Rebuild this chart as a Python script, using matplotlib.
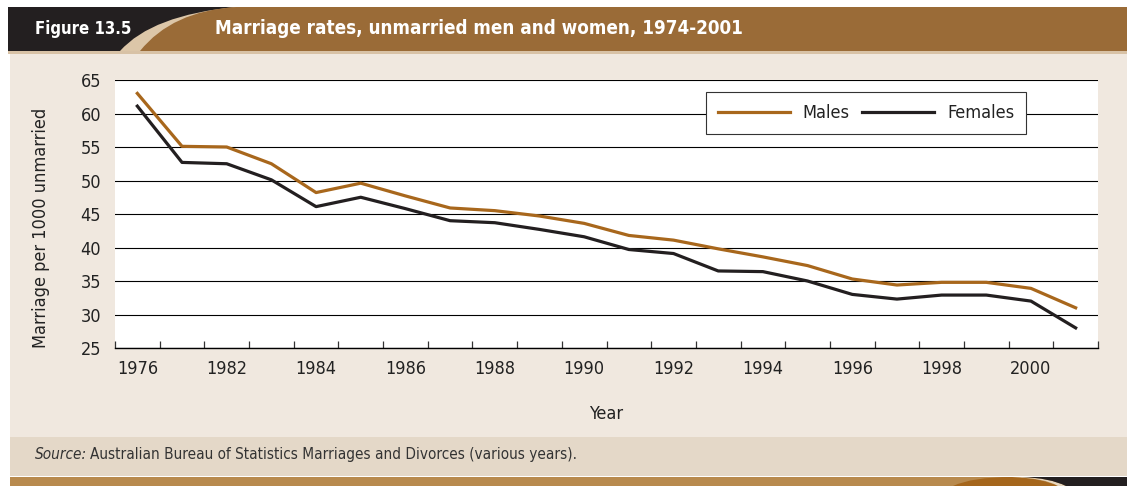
import matplotlib
matplotlib.use("Agg")
import matplotlib.pyplot as plt
from matplotlib.patches import Rectangle, PathPatch
from matplotlib.path import Path
from matplotlib.ticker import FixedLocator, NullFormatter

# data
year_labels = ["1976", "", "1982", "", "1984", "", "1986", "", "1988", "", "1990", "",
               "1992", "", "1994", "", "1996", "", "1998", "", "2000", ""]
males = [63.0, 55.1, 55.0, 52.5, 48.2, 49.6, 47.7, 45.9, 45.5, 44.7, 43.6, 41.8,
         41.1, 39.8, 38.6, 37.3, 35.3, 34.4, 34.8, 34.8, 33.9, 31.0]
females = [61.1, 52.7, 52.5, 50.1, 46.1, 47.5, 45.8, 44.0, 43.7, 42.7, 41.6, 39.7,
           39.1, 36.5, 36.4, 35.0, 33.0, 32.3, 32.9, 32.9, 32.0, 28.0]

W, H = 1127, 486
BEIGE = "#f0e8df"
BROWN = "#9a6b37"
DARK = "#231f20"
MALE_C = "#a8671c"
STRIPE = "#dcc6a8"

plt.rcParams['font.family'] = ['DejaVu Sans']
plt.rcParams['font.stretch'] = 'condensed'

fig = plt.figure(figsize=(W / 100, H / 100), dpi=100)
fig.patch.set_facecolor("white")


def fx(px):
    return px / W


def fy(py):
    return 1 - py / H


def frect(x0, y0, x1, y1, color, z=-10):
    r = Rectangle((fx(x0), fy(y1)), fx(x1) - fx(x0), fy(y0) - fy(y1),
                  transform=fig.transFigure, facecolor=color, edgecolor="none", zorder=z)
    fig.patches.append(r)


def fshape(pts, codes, color, z):
    p = Path([(fx(a), fy(b)) for a, b in pts], codes)
    fig.patches.append(PathPatch(p, transform=fig.transFigure, facecolor=color,
                                 edgecolor="none", zorder=z))


M, C, L, X = Path.MOVETO, Path.CURVE3, Path.LINETO, Path.CLOSEPOLY

# background panels
frect(10, 53, W, 437, BEIGE)
frect(10, 437, W, 476, "#e4d8c8")
frect(10, 477, W, H, "#b88a4e")
frect(8, 7, W, 51, DARK)
frect(8, 51, W, 54, "#d8c2a6")

# header: beige swoosh, brown to the right of it
fshape([(120, 51), (152, 15), (236, 7), (W, 7), (W, 51), (120, 51)],
       [M, C, C, L, L, X], STRIPE, -9)
fshape([(140, 51), (172, 11), (236, 7), (W, 7), (W, 51), (140, 51)],
       [M, C, C, L, L, X], BROWN, -8)

# bottom-right corner swoosh
fshape([(953, H), (972, 477), (1012, 477), (1040, 478), (1058, H), (953, H)],
       [M, C, C, C, C, X], "#a5661c", -9)
fshape([(1012, 477), (1045, 478), (1058, H), (1066, H), (1050, 478), (1022, 477), (1012, 477)],
       [M, C, C, L, C, C, X], "#e8d8c0", -8)
fshape([(1022, 477), (1050, 478), (1066, H), (W, H), (W, 477), (1022, 477)],
       [M, C, C, L, L, X], DARK, -8)

fig.text(fx(35), fy(29), "Figure 13.5", color="white", fontsize=12, fontweight="bold",
         va="center", ha="left", zorder=5)
fig.text(fx(215), fy(29), "Marriage rates, unmarried men and women, 1974-2001", color="white",
         fontsize=13.5, fontweight="bold", va="center", ha="left", zorder=5)

src = fig.text(fx(35), fy(454), "Source:", fontsize=11, style="italic", color="#333333",
               va="center", ha="left")
renderer = fig.canvas.get_renderer()
src_end = src.get_window_extent(renderer).x1
fig.text((src_end + 3) / W, fy(454),
         "Australian Bureau of Statistics Marriages and Divorces (various years).",
         fontsize=11, color="#333333", va="center", ha="left")

# chart
ax = fig.add_axes([fx(115), fy(348), fx(1098) - fx(115), fy(80) - fy(348)])
ax.set_zorder(5)
ax.set_facecolor("white")
x = list(range(len(year_labels)))
ax.plot(x, males, color=MALE_C, lw=2.3, label="Males", zorder=3)
ax.plot(x, females, color=DARK, lw=2.3, label="Females", zorder=3)

ax.set_xlim(-0.5, len(year_labels) - 0.5)
ax.set_ylim(25, 65)
ax.set_yticks(range(25, 66, 5))
ax.yaxis.grid(True, color="black", lw=0.8)
ax.set_axisbelow(True)

ax.xaxis.set_major_locator(FixedLocator(x))
ax.set_xticklabels(year_labels)
ax.xaxis.set_minor_locator(FixedLocator([i - 0.5 for i in range(len(year_labels) + 1)]))
ax.xaxis.set_minor_formatter(NullFormatter())
ax.tick_params(axis="x", which="major", length=0, pad=9, labelsize=13, labelcolor="#222222")
ax.tick_params(axis="x", which="minor", length=5, direction="in", width=0.9, color="#333333")
ax.tick_params(axis="y", length=0, pad=10, labelsize=13, labelcolor="#222222")

for s in ["top", "right", "left"]:
    ax.spines[s].set_visible(False)
ax.spines["bottom"].set_color("black")
ax.spines["bottom"].set_linewidth(1.0)

ax.set_xlabel("Year", fontsize=13, color="#222222")
ax.xaxis.set_label_coords(0.5, (348 - 405) / 268)
ax.set_ylabel("Marriage per 1000 unmarried", fontsize=13, color="#222222")
ax.yaxis.set_label_coords((50 - 115) / 983, (348 - 228) / 268)

leg = ax.legend(loc="center", bbox_to_anchor=(fx(866), fy(113)), bbox_transform=fig.transFigure,
                ncol=2, fontsize=13, handlelength=4.0, handletextpad=0.7, columnspacing=0.7,
                fancybox=False, framealpha=1, borderpad=0.65)
leg.get_frame().set_edgecolor("#333333")
leg.get_frame().set_linewidth(0.8)
for t in leg.get_texts():
    t.set_color("#222222")

fig.savefig("out.png", dpi=100, facecolor=fig.get_facecolor())
